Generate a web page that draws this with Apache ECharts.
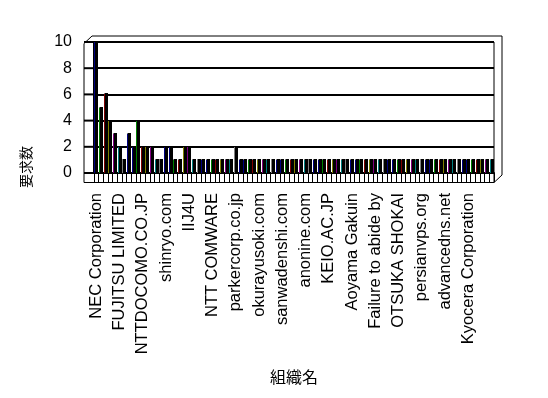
<!DOCTYPE html>
<html>
<head>
<meta charset="utf-8">
<script src="https://cdn.jsdelivr.net/npm/echarts@6/dist/echarts.min.js"></script>
<style>
  html, body { margin: 0; padding: 0; background: #ffffff; }
  #chart { width: 548px; height: 398px; }
</style>
</head>
<body>
<div id="chart"></div>
<script>
// Organisation names shown on the category axis (every fifth organisation is labelled)
const labelNames = [
  'NEC Corporation', 'FUJITSU LIMITED', 'NTTDOCOMO.CO.JP', 'shinryo.com', 'IIJ4U',
  'NTT COMWARE', 'parkercorp.co.jp', 'okurayusoki.com', 'sanwadenshi.com', 'anonine.com',
  'KEIO.AC.JP', 'Aoyama Gakuin', 'Failure to abide by', 'OTSUKA SHOKAI', 'persianvps.org',
  'advancedns.net', 'Kyocera Corporation'
];

// Request count per organisation
const requests = [
  10, 5, 6, 4, 3, 2, 1, 3, 2, 4,
  2, 2, 2, 1, 1, 2, 2, 1, 1, 2,
  2, 1, 1, 1, 1, 1, 1, 1, 1, 1,
  2, 1, 1, 1, 1, 1, 1, 1, 1, 1,
  1, 1, 1, 1, 1, 1, 1, 1, 1, 1,
  1, 1, 1, 1, 1, 1, 1, 1, 1, 1,
  1, 1, 1, 1, 1, 1, 1, 1, 1, 1,
  1, 1, 1, 1, 1, 1, 1, 1, 1, 1,
  1, 1, 1, 1, 1, 1
];

// Value-axis ticks
const yTicks = [0, 2, 4, 6, 8, 10];

const xTitle = '組織名';
const yTitle = '要求数';

const LABEL_STEP = 5;
const categories = requests.map((_, i) =>
  i % LABEL_STEP === 0 && labelNames[i / LABEL_STEP] !== undefined ? labelNames[i / LABEL_STEP] : '');

// Face colours of the columns, cycled along the axis
const palette = ['#000080', '#008000', '#800000', '#808000', '#800080', '#008080', '#808080', '#000080'];

// Plot box layout
const GRID_LEFT = 94, GRID_RIGHT_X = 494, GRID_TOP = 42, GRID_BOTTOM_Y = 173;
const DEPTH_X = 10;
const FLOOR_H = 9;

const chart = echarts.init(document.getElementById('chart'), null, { renderer: 'canvas' });

const option = {
  animation: false,
  backgroundColor: '#ffffff',
  grid: {
    left: GRID_LEFT,
    top: GRID_TOP,
    width: GRID_RIGHT_X - GRID_LEFT,
    height: GRID_BOTTOM_Y - GRID_TOP
  },
  xAxis: {
    type: 'category',
    data: categories,
    boundaryGap: true,
    name: xTitle,
    nameLocation: 'middle',
    nameGap: 196,
    nameTextStyle: { fontFamily: 'Noto Sans CJK JP', fontSize: 16, color: '#000' },
    axisLine: { show: true, lineStyle: { color: '#000', width: 2 } },
    axisTick: { show: true, interval: 0, length: FLOOR_H, lineStyle: { color: '#000', width: 1 } },
    axisLabel: {
      interval: LABEL_STEP - 1,
      rotate: 90,
      margin: 20,
      fontFamily: 'Liberation Sans',
      fontSize: 16.5,
      color: '#000'
    },
    splitLine: { show: false }
  },
  yAxis: {
    type: 'value',
    min: yTicks[0],
    max: yTicks[yTicks.length - 1],
    interval: yTicks[1] - yTicks[0],
    axisLine: { show: false },
    axisTick: { show: false },
    axisLabel: { margin: 22, fontFamily: 'Liberation Sans', fontSize: 16, color: '#000' },
    splitLine: { show: true, lineStyle: { color: '#000', width: 2 } }
  },
  series: [{
    type: 'custom',
    data: requests.map((v, i) => [i, v]),
    encode: { x: 0, y: 1 },
    renderItem: function (params, api) {
      const idx = api.value(0);
      const top = api.coord([idx, api.value(1)]);
      const base = api.coord([idx, 0]);
      const x0 = Math.round(top[0]) - 2;
      const yTop = Math.round(top[1]);
      const yBase = Math.round(base[1]);
      const face = palette[idx % palette.length];
      return {
        type: 'group',
        children: [
          {
            type: 'polygon',
            shape: { points: [[x0, yTop], [x0 + 1, yTop - 1], [x0 + 4, yTop - 1], [x0 + 4, yBase], [x0, yBase]] },
            style: { fill: '#000' }
          },
          {
            type: 'rect',
            shape: { x: x0, y: yTop, width: 1, height: yBase - yTop },
            style: { fill: face }
          }
        ]
      };
    }
  }]
};

chart.setOption(option);

// Box frame drawn around the plot (side wall, floor slab, top and right edges) and the value-axis title
function frameGraphics() {
  const y = v => chart.convertToPixel({ yAxisIndex: 0 }, v);
  const yTop = y(yTicks[yTicks.length - 1]);
  const yBase = y(yTicks[0]);
  const fx = GRID_LEFT - DEPTH_X;
  const line = (x1, y1, x2, y2, w) => ({
    type: 'line',
    shape: { x1, y1, x2, y2 },
    style: { stroke: '#000', lineWidth: w || 1 },
    silent: true
  });
  const els = [];
  yTicks.forEach(v => els.push(line(fx, y(v), GRID_LEFT, y(v), 2)));
  els.push(line(fx, yTop + 1.5, fx, yBase + FLOOR_H + 0.5));
  els.push(line(fx, yTop + 1.5, GRID_LEFT - 2, yTop - 6));
  els.push(line(GRID_LEFT - 2, yTop - 6, GRID_RIGHT_X + 8, yTop - 6));
  els.push(line(GRID_RIGHT_X + 8, yTop - 6, GRID_RIGHT_X + 8, yBase + 2));
  els.push(line(GRID_RIGHT_X, yBase + FLOOR_H + 0.5, GRID_RIGHT_X + 8, yBase + 2));
  els.push(line(fx, yBase + FLOOR_H + 0.5, GRID_RIGHT_X, yBase + FLOOR_H + 0.5));
  els.push(line(GRID_RIGHT_X, yTop, GRID_RIGHT_X, yBase + FLOOR_H + 0.5));
  els.push(line(GRID_LEFT, yTop, GRID_LEFT, yBase, 2));
  els.push({
    type: 'text',
    x: 26,
    y: yBase - 6,
    rotation: Math.PI / 2,
    style: {
      text: yTitle,
      fontFamily: 'Noto Sans CJK JP',
      fontSize: 14,
      fill: '#000',
      align: 'center',
      verticalAlign: 'middle'
    },
    silent: true
  });
  return els;
}

chart.setOption({ graphic: { elements: frameGraphics() } });
</script>
</body>
</html>
